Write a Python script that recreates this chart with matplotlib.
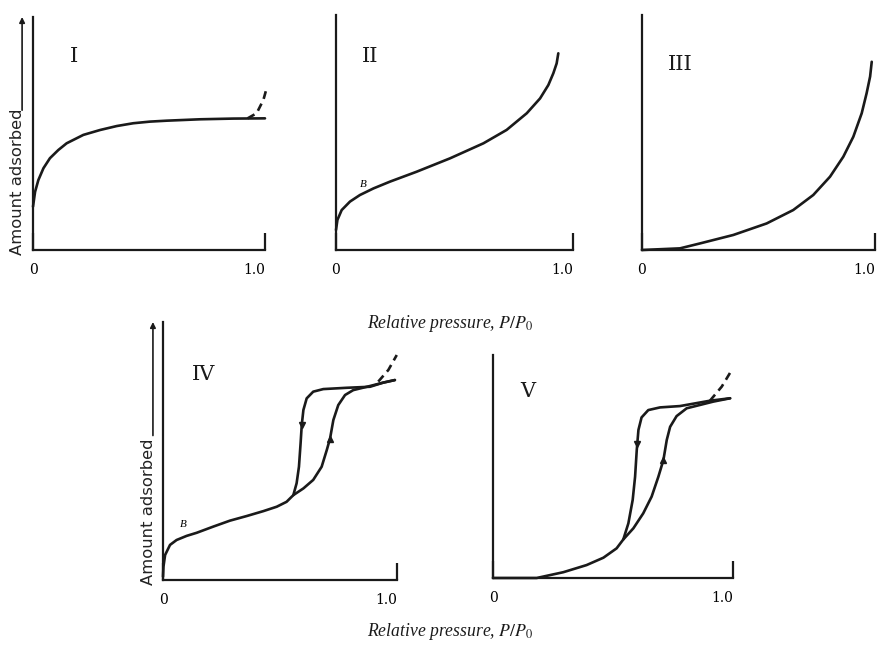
import matplotlib
matplotlib.use("Agg")
import matplotlib.pyplot as plt

plt.rcParams["mathtext.fontset"] = "stix"

# --- data (x = P/P0, y = relative amount adsorbed) ---
t1_x = [0.0, 0.009, 0.023, 0.045, 0.073, 0.109, 0.145, 0.217, 0.289, 0.361, 0.432,
        0.504, 0.576, 0.72, 0.863, 1.0]
t1_y = [0.186, 0.25, 0.30, 0.351, 0.394, 0.429, 0.458, 0.494, 0.515, 0.532, 0.544,
        0.551, 0.555, 0.561, 0.564, 0.565]
t1_dash_x = [0.925, 0.964, 0.993, 1.007]
t1_dash_y = [0.565, 0.587, 0.644, 0.694]

t2_x = [0.0, 0.006, 0.024, 0.059, 0.101, 0.158, 0.228, 0.34, 0.481, 0.622, 0.72,
        0.805, 0.861, 0.896, 0.917, 0.931, 0.938]
t2_y = [0.085, 0.128, 0.17, 0.206, 0.234, 0.262, 0.291, 0.333, 0.39, 0.454, 0.511,
        0.582, 0.645, 0.702, 0.752, 0.794, 0.837]

t3_x = [0.0, 0.163, 0.249, 0.392, 0.535, 0.649, 0.735, 0.807, 0.864, 0.907, 0.943,
        0.964, 0.979, 0.986]
t3_y = [0.0, 0.007, 0.028, 0.064, 0.113, 0.17, 0.234, 0.312, 0.397, 0.482, 0.582,
        0.667, 0.738, 0.801]

t4_ads_x = [0.0, 0.002, 0.009, 0.03, 0.058, 0.101, 0.144, 0.215, 0.286, 0.358, 0.429,
            0.486, 0.528, 0.557, 0.6, 0.642, 0.678, 0.70, 0.714, 0.728, 0.749, 0.778,
            0.813, 0.885, 0.941, 0.991]
t4_ads_y = [0.013, 0.052, 0.097, 0.136, 0.155, 0.171, 0.183, 0.207, 0.23, 0.248, 0.267,
            0.284, 0.303, 0.329, 0.355, 0.388, 0.439, 0.504, 0.549, 0.62, 0.678, 0.717,
            0.736, 0.752, 0.765, 0.775]
t4_des_x = [0.557, 0.571, 0.581, 0.588, 0.593, 0.60, 0.614, 0.642, 0.685, 0.785, 0.885,
            0.941, 0.991]
t4_des_y = [0.329, 0.375, 0.439, 0.53, 0.601, 0.659, 0.704, 0.73, 0.74, 0.745, 0.749,
            0.765, 0.775]
t4_dash_x = [0.92, 0.963, 0.999]
t4_dash_y = [0.769, 0.814, 0.872]
t4_arrow_up = (0.714, 0.545)
t4_arrow_down = (0.593, 0.60)

t5_ads_x = [0.0, 0.182, 0.293, 0.39, 0.46, 0.515, 0.543, 0.585, 0.626, 0.661, 0.689,
            0.71, 0.724, 0.738, 0.765, 0.807, 0.918, 0.988]
t5_ads_y = [0.0, 0.0, 0.026, 0.058, 0.091, 0.133, 0.173, 0.223, 0.29, 0.365, 0.454,
            0.529, 0.619, 0.678, 0.726, 0.761, 0.791, 0.806]
t5_des_x = [0.543, 0.564, 0.582, 0.592, 0.599, 0.606, 0.619, 0.647, 0.696, 0.779,
            0.904, 0.988]
t5_des_y = [0.173, 0.245, 0.35, 0.454, 0.574, 0.664, 0.72, 0.753, 0.765, 0.771,
            0.795, 0.806]
t5_dash_x = [0.904, 0.953, 0.995]
t5_dash_y = [0.795, 0.858, 0.933]
t5_arrow_up = (0.71, 0.53)
t5_arrow_down = (0.599, 0.60)

W, H = 877, 670
fig = plt.figure(figsize=(W / 100, H / 100), dpi=100)
fig.patch.set_facecolor("white")

ink = "#1a1a1a"
serif = ["DejaVu Serif"]
tserif = ["Liberation Serif", "DejaVu Serif"]


def make_axes(x0, x1, ytop, ybot):
    # axes box from pixel positions
    ax = fig.add_axes([x0 / W, 1 - ybot / H, (x1 - x0) / W, (ybot - ytop) / H])
    ax.set_xlim(0, 1.0)
    ax.set_ylim(0, 1.0)
    for s in ["top", "right"]:
        ax.spines[s].set_visible(False)
    for s in ["left", "bottom"]:
        ax.spines[s].set_linewidth(1.6)
        ax.spines[s].set_color(ink)
    ax.set_yticks([])
    ax.set_xticks([0, 1.0])
    ax.set_xticklabels(["0", "1.0"], family=serif, fontsize=10)
    ax.tick_params(axis="x", direction="in", length=12, width=1.6, pad=9, color=ink)
    lab = ax.get_xticklabels()[1]
    lab.set_ha("right")
    ax.patch.set_alpha(0)
    return ax


def curve(ax, x, y, **kw):
    ax.plot(x, y, color=ink, lw=1.9, clip_on=False, solid_capstyle="round",
            solid_joinstyle="round", **kw)


def ylabel(ax, xt, xa, yend):
    ax.text(xt, -0.02, "Amount adsorbed", rotation=90, rotation_mode="anchor",
            ha="left", va="center", fontsize=11.8, color="#222222",
            transform=ax.transAxes)
    ax.annotate("", xy=(xa, 1.0), xytext=(xa, yend), xycoords="axes fraction",
                arrowprops=dict(arrowstyle="-|>", lw=1.2, color=ink,
                                mutation_scale=8, shrinkA=0, shrinkB=0))


def numeral(ax, x, y, s):
    ax.text(x, y, s, family=serif, fontsize=15, color=ink, transform=ax.transAxes)


# --- Type I ---
ax1 = make_axes(33, 265, 17, 250)
curve(ax1, t1_x, t1_y)
curve(ax1, t1_dash_x, t1_dash_y, ls=(0, (3, 2)))
numeral(ax1, 0.16, 0.807, "I")
ylabel(ax1, -0.068, -0.047, 0.60)

# --- Type II ---
ax2 = make_axes(336, 573, 15, 250)
curve(ax2, t2_x, t2_y)
numeral(ax2, 0.11, 0.80, "II")
ax2.text(0.10, 0.27, "B", family=tserif, style="italic", fontsize=8)

# --- Type III ---
ax3 = make_axes(642, 875, 15, 250)
curve(ax3, t3_x, t3_y)
numeral(ax3, 0.112, 0.766, "III")

# --- Type IV ---
ax4 = make_axes(163, 397, 322, 580)
curve(ax4, t4_ads_x, t4_ads_y)
curve(ax4, t4_des_x, t4_des_y)
curve(ax4, t4_dash_x, t4_dash_y, ls=(0, (3, 2)))
ax4.plot(*t4_arrow_up, marker="^", ms=5, color=ink)
ax4.plot(*t4_arrow_down, marker="v", ms=5, color=ink)
numeral(ax4, 0.124, 0.775, "IV")
ax4.text(0.073, 0.205, "B", family=tserif, style="italic", fontsize=8)
ylabel(ax4, -0.064, -0.043, 0.56)

# --- Type V ---
ax5 = make_axes(493, 733, 355, 578)
curve(ax5, t5_ads_x, t5_ads_y)
curve(ax5, t5_des_x, t5_des_y)
curve(ax5, t5_dash_x, t5_dash_y, ls=(0, (3, 2)))
ax5.plot(*t5_arrow_up, marker="^", ms=5, color=ink)
ax5.plot(*t5_arrow_down, marker="v", ms=5, color=ink)
numeral(ax5, 0.113, 0.81, "V")

# shared x labels
for ypix in (323, 632):
    fig.text(450 / W, 1 - ypix / H, r"Relative pressure, $P/P_0$", family=tserif,
             style="italic", fontsize=12.7, ha="center", va="center", color=ink)

fig.savefig("out.png", dpi=100, facecolor="white")
